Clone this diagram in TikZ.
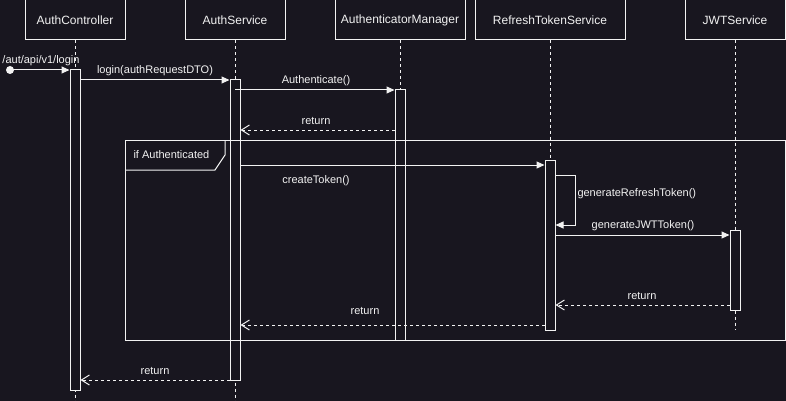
\documentclass[tikz,border=0pt]{standalone}
\usepackage{fontspec}
\setmainfont{Liberation Sans}
\usetikzlibrary{arrows.meta}
\definecolor{bg}{HTML}{18161F}
\definecolor{fg}{HTML}{F2F2F2}
\begin{document}
\begin{tikzpicture}[x=1pt,y=-1pt,line width=1pt,
  head/.style={draw=fg,fill=bg,minimum height=40pt,inner sep=0pt,text=fg,font=\fontsize{12}{14}\selectfont},
  lifeline/.style={draw=fg,dash pattern=on 3pt off 3pt},
  actbar/.style={draw=fg,fill=bg,minimum width=10pt,inner sep=0pt},
  msg/.style={draw=fg,-{Triangle[length=8pt,width=7pt]}},
  ret/.style={draw=fg,dash pattern=on 3pt off 3pt,-{Straight Barb[length=8pt,width=10pt]}},
  lbl/.style={text=fg,font=\fontsize{11}{13}\selectfont,inner sep=0pt}]
\fill[bg] (0,0) rectangle (786,401);
\useasboundingbox (0,0) rectangle (786,401);

% headers
\node[head,minimum width=100pt] (hAC) at (75,20) {AuthController};
\node[head,minimum width=100pt] (hAS) at (235,20) {AuthService};
\node[head,minimum width=130pt] (hAM) at (400,20) {AuthenticatorManager};
\node[head,minimum width=150pt] (hRT) at (550,20) {RefreshTokenService};
\node[head,minimum width=100pt] (hJW) at (735,20) {JWTService};

% lifeline ends
\coordinate (eAC) at (75,401);
\coordinate (eAS) at (235,401);
\coordinate (eAM) at (400,340);
\coordinate (eRT) at (550,330);
\coordinate (eJW) at (735,330);
\draw[lifeline] (hAC.south) -- (eAC);
\draw[lifeline] (hAS.south) -- (eAS);
\draw[lifeline] (hAM.south) -- (eAM);
\draw[lifeline] (hRT.south) -- (eRT);
\draw[lifeline] (hJW.south) -- (eJW);

% activation bars
\node[actbar,minimum height=320pt] (bAC) at (75,230) {};
\node[actbar,minimum height=300pt] (bAS) at (235,230) {};
\node[actbar,minimum height=250pt] (bAM) at (400,215) {};
\node[actbar,minimum height=170pt] (bRT) at (550,245) {};
\node[actbar,minimum height=80pt] (bJW) at (735,270) {};

% frame
\draw[fg] (125,140) rectangle (785,340);
\draw[fg] (125,170) -- (215,170) -- (225,155) -- (225,140);
\node[lbl,anchor=west,font=\fontsize{11}{13}\selectfont] (fl) at (133,155) {if Authenticated};

% found message
\fill[fg] (10,70) circle (4pt);
\coordinate (start) at (10,70);
\draw[msg] (start) -- (bAC.west |- 0,70);
\node[lbl] (m0) at (41,61) {/aut/api/v1/login};

% login
\draw[msg] (bAC.east |- 0,80) -- (bAS.west |- 0,80);
\node[lbl] (m1) at (155,71) {login(authRequestDTO)};

% authenticate
\draw[msg] (bAS.center |- 0,90) -- (bAM.west |- 0,90);
\node[lbl] (m2) at (316,81) {Authenticate()};

% return
\draw[ret] (bAM.west |- 0,130) -- (bAS.east |- 0,130);
\node[lbl] (m3) at (316,121) {return};

% createToken
\draw[msg] (bAS.east |- 0,165) -- (bRT.west |- 0,165);
\node[lbl] (m4) at (316,181) {createToken()};

% self message
\coordinate (s1) at (575,175);
\coordinate (s2) at (575,225);
\draw[msg] (bRT.east |- 0,175) -- (s1) -- (s2) -- (bRT.east |- 0,225);
\node[lbl,anchor=west] (m5) at (577,194) {generateRefreshToken()};

% generateJWTToken
\draw[msg] (bRT.east |- 0,235) -- (bJW.west |- 0,235);
\node[lbl] (m6) at (643,226) {generateJWTToken()};

% return JWT
\draw[ret] (bJW.west |- 0,305) -- (bRT.east |- 0,305);
\node[lbl] (m7) at (642,296) {return};

% return refresh
\draw[ret] (bRT.west |- 0,325) -- (bAS.east |- 0,325);
\node[lbl] (m8) at (365,311) {return};

% final return
\draw[ret] (bAS.west |- 0,380) -- (bAC.east |- 0,380);
\node[lbl] (m9) at (155,371) {return};
\end{tikzpicture}
\end{document}
